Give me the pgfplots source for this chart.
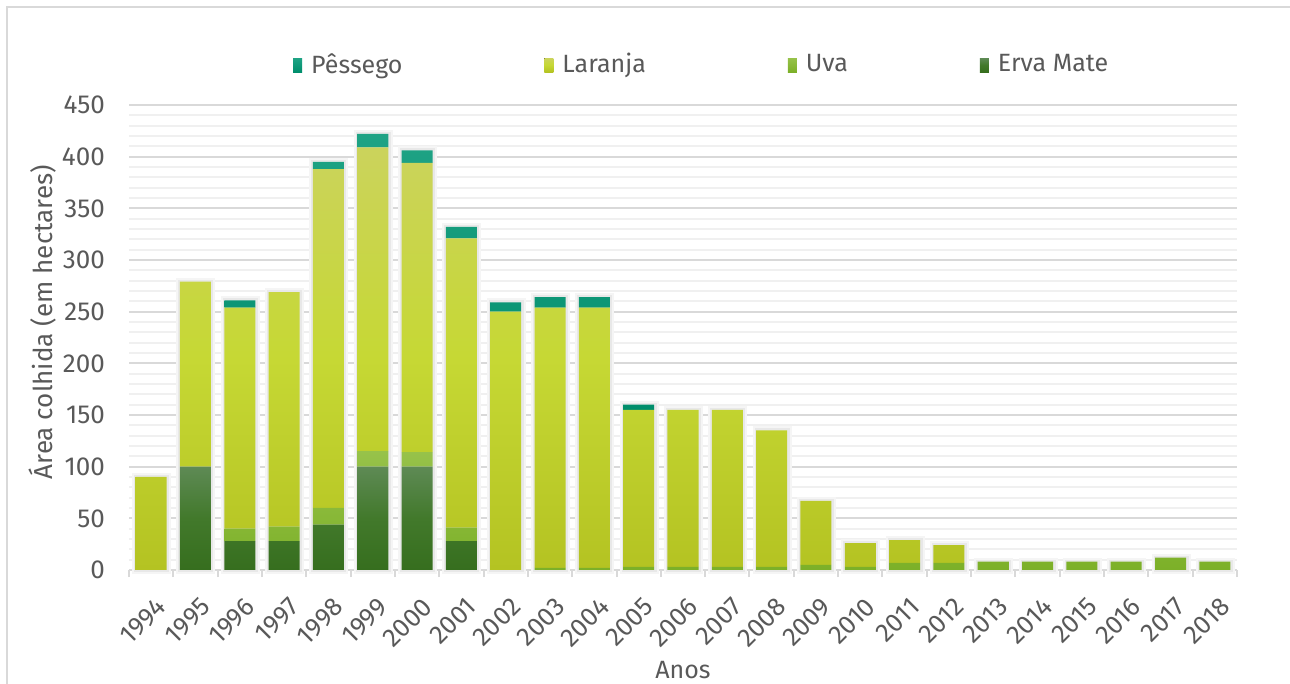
\documentclass[border=0pt]{standalone}
\usepackage{pgfplots}
\pgfplotsset{compat=1.18}
\usepackage{pgfplotstable}
\usepackage{fontspec}
\setmainfont{Fira Sans}
\definecolor{txt}{HTML}{595959}
\definecolor{gmaj}{HTML}{D9D9D9}
\definecolor{gmin}{HTML}{F0F0F0}
\definecolor{frame}{HTML}{D9D9D9}
\definecolor{lartop}{HTML}{CBD35C}
\definecolor{larmid}{HTML}{C6D834}
\definecolor{larbot}{HTML}{B4C322}
\definecolor{ervtop}{HTML}{5E8A55}
\definecolor{ervmid}{HTML}{42792B}
\definecolor{ervbot}{HTML}{366E1E}
\definecolor{uvatop}{HTML}{97C24A}
\definecolor{uvabot}{HTML}{7CB028}
\definecolor{pestop}{HTML}{1FA385}
\definecolor{pesbot}{HTML}{008E6C}

\pgfplotstableread{
x erva uva laranja pessego total
0  0   0   90  0  90
1  100 0   179 0  279
2  28  12  214 7  261
3  28  14  227 0  269
4  44  16  328 7  395
5  100 15  294 13 422
6  100 14  280 12 406
7  28  13  280 11 332
8  0   0   250 9  259
9  0   2   252 10 264
10 0   2   252 10 264
11 0   3   152 5  160
12 0   3   152 0  155
13 0   3   152 0  155
14 0   3   132 0  135
15 0   5   62  0  67
16 0   3   23  0  26
17 0   7   22  0  29
18 0   7   17  0  24
19 0   8   0   0  8
20 0   8   0   0  8
21 0   8   0   0  8
22 0   8   0   0  8
23 0   12  0   0  12
24 0   8   0   0  8
}\data

\pgfplotsset{
  base/.style={
    scale only axis,
    width=1108bp, height=465bp,
    at={(129bp,114bp)}, anchor=south west,
    bar width=0.7,
    xmin=-0.5, xmax=24.5, ymin=0, ymax=450,
    clip=false,
  }
}

\begin{document}
\fontsize{24bp}{28bp}\selectfont\color{txt}%
\begin{tikzpicture}
\useasboundingbox (0,0) rectangle (1290bp,684bp);
\draw[frame, line width=2bp] (6.5bp,0) -- (6.5bp,677bp) -- (1290bp,677bp);
% background: grid, ticks, labels and bar shadows
\begin{axis}[
  base,
  ybar,
  axis lines*=left,
  x axis line style={draw=gmaj, line width=2bp},
  y axis line style={draw=none},
  ytick={0,50,...,450},
  minor y tick num=4,
  ymajorgrids, yminorgrids,
  major grid style={draw=gmaj, line width=2bp},
  minor grid style={draw=gmin, line width=2bp},
  ytick style={draw=none},
  xtick={0,...,24},
  xticklabels={1994,1995,1996,1997,1998,1999,2000,2001,2002,2003,2004,2005,2006,2007,2008,2009,2010,2011,2012,2013,2014,2015,2016,2017,2018},
  minor xtick={-0.5,0.5,...,24.5},
  xtick align=outside,
  major tick length=0pt,
  minor tick length=7bp,
  x tick style={draw=gmaj, line width=2bp},
  /pgf/number format/assume math mode=true,
  tick label style={font=\fontsize{26bp}{30bp}\selectfont, text=txt},
  yticklabel style={inner sep=0pt, xshift=-24bp},
  xticklabel style={inner sep=0pt, xshift=4bp, yshift=-26bp, rotate=45, anchor=north east},
  xlabel={Anos},
  ylabel={Área colhida (em hectares)},
  every axis x label/.style={at={(axis description cs:0.5,-0.215)}, anchor=center, text=txt, font=\fontsize{25bp}{30bp}\selectfont},
  every axis y label/.style={at={(axis description cs:-0.0776,0.533)}, anchor=center, rotate=90, text=txt, font=\fontsize{26bp}{30bp}\selectfont},
]
\addplot[bar shift=0.5bp, fill=black!4, draw=black!4, line width=8bp] table[x=x,y=total]{\data};
\addplot[bar shift=0.5bp, fill=black!9, draw=black!9, line width=4bp] table[x=x,y=total]{\data};
\end{axis}
% foreground: stacked bars and legend
\begin{axis}[
  base,
  ybar stacked,
  axis lines=none,
  xtick=\empty, ytick=\empty,
  legend columns=4,
  reverse legend,
  legend image code/.code={\fill[#1] (0bp,-7bp) rectangle (9bp,7bp); \path (0bp,0bp) -- (16bp,0bp);},
  legend style={draw=none, fill=none, inner sep=0pt, at={(0.148,1.086)}, anchor=west,
    font=\fontsize{25bp}{30bp}\selectfont, text=txt,
    /tikz/column 2/.style={column sep=140bp},
    /tikz/column 4/.style={column sep=140bp},
    /tikz/column 6/.style={column sep=130bp}},
]
\addplot[draw=none, top color=ervtop, bottom color=ervbot, middle color=ervmid] table[x=x,y=erva]{\data};
\addlegendentry{Erva Mate}
\addplot[draw=none, top color=uvatop, bottom color=uvabot] table[x=x,y=uva]{\data};
\addlegendentry{Uva}
\addplot[draw=none, top color=lartop, bottom color=larbot, middle color=larmid] table[x=x,y=laranja]{\data};
\addlegendentry{Laranja}
\addplot[draw=none, top color=pestop, bottom color=pesbot] table[x=x,y=pessego]{\data};
\addlegendentry{Pêssego}
\end{axis}
\end{tikzpicture}
\end{document}
